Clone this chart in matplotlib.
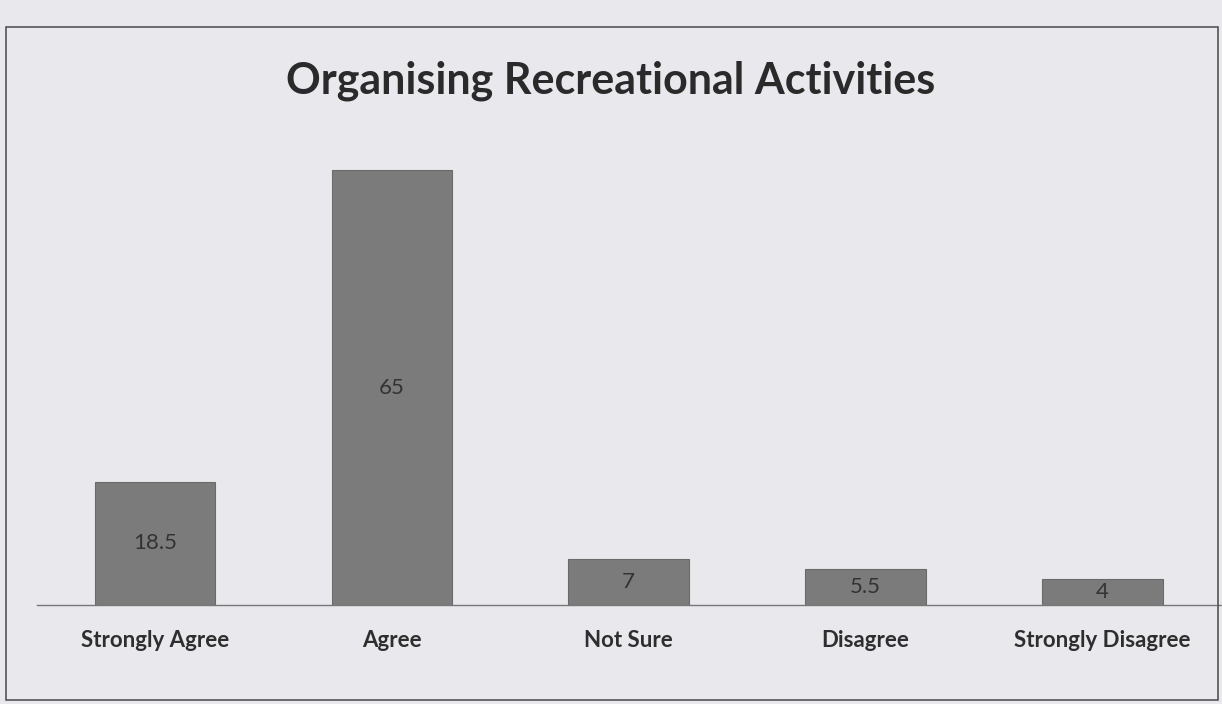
import matplotlib.pyplot as plt
from matplotlib.patches import Rectangle

# ---------- DATA ----------
categories = ["Strongly Agree", "Agree", "Not Sure", "Disagree", "Strongly Disagree"]
values = [18.5, 65, 7, 5.5, 4]
value_labels = ["18.5", "65", "7", "5.5", "4"]

paper = "#e9e9ed"
bar_color = "#7b7b7b"
text_color = "#2e2e2e"

plt.rcParams['font.family'] = ['Lato', 'DejaVu Sans']

fig = plt.figure(figsize=(12.22, 7.04), dpi=100, facecolor=paper)
ax = fig.add_axes([0.03, 0.14, 0.969, 0.666])
ax.set_facecolor("none")

x = list(range(len(categories)))
bars = ax.bar(x, values, width=0.51, color=bar_color, edgecolor="#6a6a6a", linewidth=0.8)

# labels inside bars, centred
for b, lab, v in zip(bars, value_labels, values):
    ax.text(b.get_x() + b.get_width() / 2, v / 2, lab, ha="center", va="center",
            fontsize=16, color="#333333")

ax.set_xlim(-0.5, 4.5)
ax.set_ylim(0, 70)
ax.set_xticks(x)
ax.set_xticklabels(categories, fontsize=16, fontweight="bold", color=text_color)
ax.tick_params(axis="x", length=0, pad=18)
ax.set_yticks([])
for s in ["top", "right", "left"]:
    ax.spines[s].set_visible(False)
ax.spines["bottom"].set_color("#777777")
ax.spines["bottom"].set_linewidth(1.0)

fig.text(0.5, 0.885, "Organising Recreational Activities", ha="center", va="center",
         fontsize=31, fontweight="bold", color="#2a2a2a")

# outer chart frame
fig.patches.append(Rectangle((0.005, 0.006), 0.992, 0.955, transform=fig.transFigure,
                             fill=False, edgecolor="#555555", linewidth=1.2))

fig.savefig("out.png", dpi=100, facecolor=paper)
